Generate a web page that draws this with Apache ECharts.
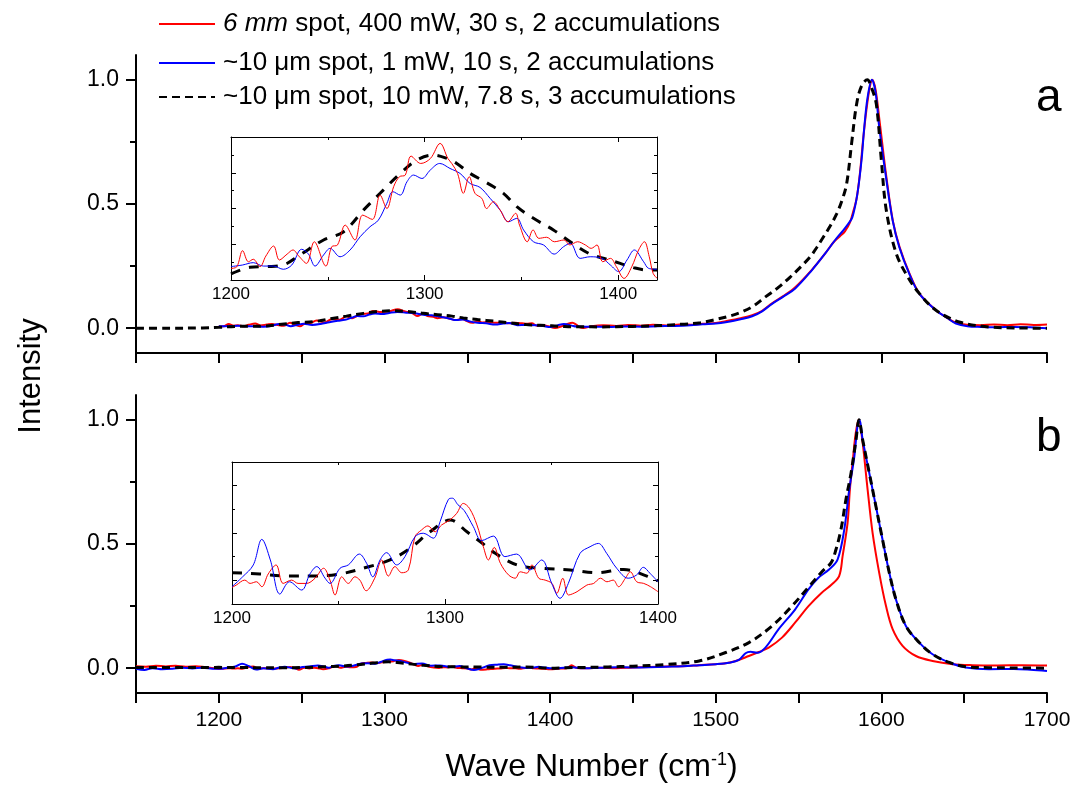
<!DOCTYPE html>
<html><head><meta charset="utf-8">
<script src="https://cdn.jsdelivr.net/npm/echarts@6/dist/echarts.min.js"></script>
<style>html,body{margin:0;padding:0;background:#fff}#c{width:1078px;height:789px}</style>
</head><body><div id="c"></div>
<script>
const NAME_RED = '6 mm spot, 400 mW, 30 s, 2 accumulations';
const NAME_BLUE = '~10 μm spot, 1 mW, 10 s, 2 accumulations';
const NAME_DASH = '~10 μm spot, 10 mW, 7.8 s, 3 accumulations';
const PANEL_LABELS = ['a', 'b'];
const MAIN_Y_LABELS = [0, 0.5, 1.0];
const MAIN_Y_TICKS_MINOR = [0.25, 0.75];

// ---- panel a, inset region (1200-1420) ----
const insetA_red = [[1200,0.0065],[1203,0.0074],[1206,0.0164],[1209,0.0102],[1211.5,0.0116],[1215,0.0075],[1218,0.0134],[1222,0.019],[1225,0.0112],[1229,0.0145],[1232,0.0168],[1235,0.0134],[1239,0.0093],[1243,0.0214],[1249,0.0078],[1252,0.0186],[1255,0.0196],[1259,0.0307],[1264,0.0224],[1268,0.0363],[1273,0.0339],[1277,0.0475],[1280.5,0.04],[1284,0.0522],[1287,0.0578],[1290,0.0587],[1293,0.0693],[1298,0.0652],[1303,0.068],[1308,0.0764],[1312,0.068],[1314,0.0652],[1317,0.0596],[1320,0.0485],[1323,0.0578],[1326,0.0485],[1329.5,0.0457],[1332,0.04],[1335.5,0.0438],[1339,0.0391],[1343,0.0326],[1347,0.0373],[1349,0.0307],[1353,0.0214],[1356,0.028],[1359,0.0233],[1363,0.0239],[1367,0.0214],[1372,0.0224],[1375,0.0196],[1379,0.0214],[1383,0.0196],[1386,0.0177],[1389,0.0196],[1392,0.0102],[1396,0.0121],[1399,0.0075],[1403,0.0009],[1407,0.0075],[1410.5,0.0168],[1413.5,0.0214],[1416,0.013],[1418,0.0037],[1420,0.001]];
const insetA_blue = [[1200,0.0075],[1206,0.0084],[1211.5,0.0097],[1216.7,0.0078],[1222,0.0078],[1227,0.006],[1231.4,0.0084],[1236.5,0.0172],[1240,0.0145],[1243.4,0.0078],[1247.8,0.014],[1251.2,0.0177],[1256.3,0.013],[1261.5,0.0168],[1266.7,0.0242],[1271.8,0.0298],[1276.1,0.0335],[1280.5,0.0429],[1283.6,0.0494],[1287.4,0.0475],[1290.9,0.055],[1294.3,0.0587],[1298.6,0.0568],[1302.9,0.0615],[1307.8,0.0652],[1313.1,0.0624],[1318.3,0.0596],[1323.5,0.054],[1328.6,0.0518],[1333.8,0.0457],[1339,0.0391],[1343.3,0.0326],[1347.6,0.0345],[1351.1,0.028],[1356.2,0.0214],[1361.4,0.0196],[1366.9,0.0145],[1371.7,0.0186],[1375.2,0.0205],[1380.3,0.0121],[1385.5,0.013],[1391.6,0.0121],[1395.9,0.0084],[1400.2,0.0047],[1404.5,0.0112],[1408.3,0.0168],[1413.1,0.0102],[1415.7,0.0065],[1420,0.006]];
const insetA_dash = [[1200,0.0034],[1209.8,0.0071],[1218.4,0.0075],[1227,0.0084],[1235.6,0.014],[1247.8,0.0224],[1258.2,0.027],[1268.4,0.0391],[1277,0.0485],[1287.4,0.0596],[1296,0.0671],[1304.6,0.0699],[1311.5,0.068],[1316.6,0.0652],[1323.5,0.0596],[1332.1,0.0544],[1340.7,0.0485],[1347.6,0.041],[1356.2,0.0345],[1366.5,0.028],[1375.2,0.0214],[1385.5,0.0145],[1394.1,0.0116],[1401,0.0093],[1407.9,0.0069],[1414.8,0.0056],[1420,0.0056]];

// ---- panel a, remaining main trace ----
const mainA_dashHead = [[1150,0.0],[1170,0.0],[1190,0.001]];
const mainA_redTail = [[1425,0.008],[1432,0.012],[1440,0.009],[1447,0.013],[1455,0.010],[1462,0.014],[1470,0.011],[1478,0.015],[1485,0.014],[1492,0.018],[1500,0.021],[1506,0.028],[1515,0.04],[1522,0.052],[1528,0.07],[1534,0.1],[1541,0.13],[1548,0.165],[1558,0.235],[1566,0.3],[1571,0.345],[1575,0.37],[1578,0.39],[1581,0.425],[1583,0.47],[1585,0.52],[1587,0.62],[1589,0.76],[1591,0.88],[1593,0.97],[1594.5,1.0],[1596.5,0.96],[1599,0.83],[1603,0.61],[1607,0.43],[1611,0.327],[1617,0.22],[1623,0.139],[1633,0.072],[1640,0.04],[1645,0.022],[1652,0.014],[1660,0.012],[1668,0.015],[1676,0.012],[1684,0.016],[1692,0.013],[1700,0.015]];
const mainA_blueTail = [[1425,0.006],[1435,0.005],[1445,0.007],[1455,0.006],[1465,0.008],[1475,0.009],[1485,0.012],[1492,0.016],[1500,0.019],[1506,0.024],[1515,0.036],[1522,0.048],[1528,0.068],[1534,0.098],[1541,0.128],[1548,0.16],[1558,0.233],[1566,0.3],[1572,0.354],[1577,0.394],[1580,0.42],[1582.5,0.447],[1585.5,0.54],[1588,0.675],[1589.7,0.81],[1591.7,0.93],[1594.3,1.0],[1596.5,0.95],[1598.7,0.81],[1602.8,0.608],[1606.8,0.434],[1610.8,0.327],[1616.8,0.22],[1622.9,0.139],[1632.9,0.072],[1640,0.04],[1645,0.019],[1652,0.008],[1660,0.005],[1670,0.004],[1680,0.005],[1690,0.004],[1700,0.0]];
const mainA_dashTail = [[1430,0.005],[1440,0.006],[1450,0.007],[1460,0.009],[1470,0.012],[1480,0.016],[1490,0.021],[1500,0.035],[1508,0.048],[1516,0.066],[1523,0.09],[1530,0.126],[1538,0.165],[1545,0.206],[1551,0.245],[1557,0.287],[1561,0.325],[1565,0.367],[1569,0.41],[1573,0.46],[1576,0.51],[1579,0.58],[1582,0.742],[1585,0.9],[1588,0.975],[1591.5,1.0],[1594,0.97],[1597,0.9],[1600,0.675],[1603,0.474],[1609,0.3],[1616,0.206],[1623,0.139],[1633,0.072],[1647,0.025],[1665,0.005],[1680,0.001],[1700,0.0]];

// ---- panel b, inset region (1200-1400) ----
const insetB_red = [[1200,-0.003],[1202,-0.002],[1206,0.0001],[1208.5,-0.0013],[1211.5,-0.0006],[1214,-0.0027],[1217,0.0027],[1220.7,0.0065],[1224,-0.0013],[1228,0.0001],[1231,-0.0013],[1235,-0.0013],[1239,0.0009],[1243,0.0051],[1246,0.0001],[1248.4,-0.0062],[1251.5,0.0015],[1254.6,-0.0013],[1257.7,0.0015],[1260,0.0001],[1263,-0.0044],[1267,0.0009],[1270.3,0.0086],[1273.4,0.0018],[1276.5,0.0058],[1279.7,0.0032],[1282.8,0.0044],[1285.9,0.0184],[1289,0.0213],[1292,0.023],[1295.3,0.0205],[1298.4,0.0234],[1302.3,0.0255],[1305.5,0.0283],[1308.6,0.0325],[1311.5,0.0304],[1315,0.0234],[1318,0.0142],[1320.4,0.0086],[1323.1,0.0139],[1326,0.0072],[1329.8,0.0023],[1333,0.0009],[1335.3,0.0036],[1338.4,0.003],[1340.8,0.0065],[1344,0.0009],[1347,0.0001],[1350.2,-0.0013],[1352.5,-0.0055],[1355.3,0.0009],[1358,-0.0062],[1362,-0.0048],[1366.6,-0.002],[1369.8,-0.0013],[1373,0.0009],[1376,-0.0006],[1379,0.0001],[1381.5,-0.0027],[1384.7,0.0009],[1387,0.0036],[1390,-0.0006],[1393.3,-0.0013],[1396.5,-0.0027],[1400,-0.0048]];
const insetB_blue = [[1200,-0.0027],[1205,0.0015],[1210,0.0065],[1214,0.0173],[1218,0.0086],[1222.5,-0.0058],[1227,-0.0006],[1232.7,-0.0041],[1236.6,0.0027],[1239.8,0.0058],[1243.7,0.0009],[1246,-0.0013],[1250.7,0.0051],[1254.6,0.0065],[1259.8,0.0111],[1263.2,0.0072],[1266.1,0.0015],[1269.5,0.0086],[1272.6,0.0117],[1277.3,0.0065],[1281.2,0.01],[1285.9,0.0184],[1289.8,0.0199],[1294.5,0.0178],[1297.7,0.0248],[1301.6,0.0342],[1303.5,0.0347],[1306,0.032],[1309,0.0295],[1313.3,0.0227],[1317.2,0.0168],[1322.7,0.0187],[1328.1,0.01],[1333.6,0.0111],[1339.9,0.0044],[1345.4,0.0086],[1350.1,-0.0013],[1354,-0.0076],[1357.9,-0.0013],[1363.4,0.0114],[1368.1,0.0142],[1372,0.0156],[1375.9,0.0114],[1380.6,0.0051],[1386,0.0009],[1390,0.0023],[1393.1,0.0055],[1396.2,0.003],[1400,-0.0006]];
const insetB_dash = [[1200,0.0032],[1213,0.0027],[1225.6,0.0018],[1238,0.0018],[1250.7,0.0027],[1263.2,0.0055],[1274.2,0.0086],[1283.6,0.0135],[1293,0.0205],[1302.5,0.0255],[1310.3,0.0205],[1316.6,0.0163],[1323.6,0.0114],[1333.8,0.0065],[1344.8,0.0051],[1358.8,0.0044],[1371.4,0.0032],[1383.9,0.0046],[1394.8,0.0018],[1400,-0.0002]];

// ---- panel b, remaining main trace ----
const mainB_redHead = [[1150,0.008],[1156,0.006],[1162,0.01],[1168,0.007],[1174,0.01],[1180,0.006],[1186,0.008],[1192,0.004],[1197,0.0]];
const mainB_blueHead = [[1150,-0.002],[1155,-0.007],[1160,0.0],[1166,-0.004],[1172,-0.002],[1178,0.002],[1184,-0.001],[1190,0.002],[1196,-0.002]];
const mainB_dashHead = [[1150,0.003],[1175,0.003],[1195,0.003]];
const mainB_redTail = [[1405,-0.002],[1410,0.0],[1413,0.012],[1416,0.001],[1422,0.0],[1430,0.002],[1440,0.0],[1450,0.003],[1460,0.005],[1470,0.007],[1480,0.008],[1490,0.012],[1500,0.016],[1506,0.02],[1512,0.029],[1520,0.049],[1526,0.065],[1532,0.083],[1540,0.123],[1548,0.184],[1556,0.25],[1564,0.304],[1570,0.337],[1574.5,0.371],[1576.6,0.451],[1579.6,0.585],[1581,0.719],[1583,0.853],[1584.6,0.95],[1586.3,1.0],[1588.3,0.93],[1591.7,0.719],[1594.7,0.545],[1598.7,0.384],[1602.8,0.25],[1606.8,0.157],[1612.8,0.09],[1620.9,0.049],[1630.9,0.029],[1643,0.016],[1655,0.012],[1670,0.011],[1685,0.012],[1700,0.011]];
const mainB_blueTail = [[1405,0.0],[1413,0.004],[1420,0.0],[1430,0.002],[1440,0.004],[1450,0.003],[1460,0.004],[1470,0.006],[1480,0.008],[1490,0.012],[1500,0.016],[1508,0.022],[1514,0.033],[1518,0.06],[1521,0.066],[1525,0.062],[1530,0.083],[1538,0.157],[1548,0.237],[1556,0.317],[1562,0.364],[1568.6,0.398],[1573.6,0.438],[1577.6,0.558],[1580.6,0.719],[1583.7,0.853],[1585.5,0.97],[1586.8,1.0],[1588.7,0.92],[1592.7,0.786],[1596.7,0.652],[1600.7,0.518],[1604.8,0.384],[1608.8,0.277],[1614.8,0.17],[1622.9,0.103],[1630.9,0.056],[1641,0.023],[1651,0.003],[1665,-0.004],[1680,-0.003],[1690,-0.006],[1700,-0.011]];
const mainB_dashTail = [[1410,0.002],[1420,0.003],[1435,0.005],[1450,0.008],[1470,0.015],[1490,0.029],[1506,0.063],[1520,0.103],[1534,0.17],[1546,0.25],[1556.5,0.33],[1564.5,0.391],[1569.6,0.424],[1572.6,0.478],[1575.6,0.558],[1578.6,0.679],[1581.7,0.786],[1584.7,0.92],[1586.5,1.0],[1588.7,0.92],[1592.7,0.786],[1596.7,0.652],[1600.7,0.518],[1604.8,0.384],[1608.8,0.277],[1614.8,0.17],[1622.9,0.103],[1630.9,0.056],[1641,0.023],[1651,0.006],[1665,0.002],[1680,0.001],[1700,0.0]];

const FONT = '"Liberation Sans", Arial, sans-serif';
const RED = '#ff0000', BLUE = '#0000ff', BLACK = '#000000';

function mainX(idx, showLabels) {
  return {
    type: 'value', gridIndex: idx, min: 1150, max: 1700, interval: 50, position: 'bottom',
    axisLine: {show: true, onZero: false, lineStyle: {color: BLACK, width: 2}},
    axisTick: {show: true, inside: false, length: 10, lineStyle: {color: BLACK, width: 2}},
    axisLabel: {show: showLabels, margin: 17, color: BLACK, fontSize: 21, fontFamily: FONT,
      formatter: v => (v % 100 === 0 ? String(v) : '')},
    splitLine: {show: false}
  };
}
function mainYMajor(idx) {
  return {
    type: 'value', gridIndex: idx, min: -0.1, max: 1.1, position: 'left',
    axisLine: {show: true, onZero: false, lineStyle: {color: BLACK, width: 2}},
    axisTick: {show: true, inside: false, length: 10, customValues: MAIN_Y_LABELS, lineStyle: {color: BLACK, width: 2}},
    axisLabel: {show: true, margin: 17, color: BLACK, fontSize: 23, fontFamily: FONT,
      customValues: MAIN_Y_LABELS, formatter: v => v.toFixed(1)},
    splitLine: {show: false}
  };
}
function mainYMinor(idx) {
  return {
    type: 'value', gridIndex: idx, min: -0.1, max: 1.1, position: 'left',
    axisLine: {show: false},
    axisTick: {show: true, inside: false, length: 6, customValues: MAIN_Y_TICKS_MINOR, lineStyle: {color: BLACK, width: 2}},
    axisLabel: {show: false},
    splitLine: {show: false}
  };
}
function insetX(idx, pos, max) {
  return {
    type: 'value', gridIndex: idx, min: 1200, max: max, interval: 100, position: pos,
    axisLine: {show: true, onZero: false, lineStyle: {color: BLACK, width: 1}},
    axisTick: {show: true, inside: true, length: 5, lineStyle: {color: BLACK, width: 1}},
    minorTick: {show: true, splitNumber: 2, length: 3, lineStyle: {color: BLACK, width: 1}},
    axisLabel: {show: pos === 'bottom', margin: 6, color: BLACK, fontSize: 17, fontFamily: FONT,
      showMaxLabel: max % 100 === 0, formatter: v => (v % 100 === 0 ? String(v) : '')},
    splitLine: {show: false}
  };
}
function insetY(idx, pos, min, max, majors, minors) {
  return [{
    type: 'value', gridIndex: idx, min: min, max: max, position: pos,
    axisLine: {show: true, onZero: false, lineStyle: {color: BLACK, width: 1}},
    axisTick: {show: true, inside: true, length: 5, customValues: majors, lineStyle: {color: BLACK, width: 1}},
    axisLabel: {show: false}, splitLine: {show: false}
  }, {
    type: 'value', gridIndex: idx, min: min, max: max, position: pos,
    axisLine: {show: false},
    axisTick: {show: true, inside: true, length: 3, customValues: minors, lineStyle: {color: BLACK, width: 1}},
    axisLabel: {show: false}, splitLine: {show: false}
  }];
}

function line(name, data, xi, yi, color, width, dash) {
  return {
    name: name, type: 'line', xAxisIndex: xi, yAxisIndex: yi, data: data,
    symbol: 'none', smooth: 0.35, clip: true, silent: true,
    lineStyle: {color: color, width: width, type: dash || 'solid'},
    itemStyle: {color: color}
  };
}

const dashMain = [8, 5];
const dashInset = [10, 9];

const option = {
  animation: false,
  backgroundColor: '#fff',
  textStyle: {fontFamily: FONT},
  title: [
    {text: PANEL_LABELS[0], left: 1031, top: 70, textStyle: {fontSize: 46, fontWeight: 'normal', color: BLACK, fontFamily: FONT}},
    {text: PANEL_LABELS[1], left: 1031, top: 410, textStyle: {fontSize: 46, fontWeight: 'normal', color: BLACK, fontFamily: FONT}}
  ],
  legend: [NAME_RED, NAME_BLUE, NAME_DASH].map((n, i) => ({
    data: [n], orient: 'vertical', left: 153, top: [6, 45, 79][i],
    itemWidth: 56, itemHeight: 14, itemGap: 0, selectedMode: false,
    itemStyle: {opacity: 0, borderWidth: 0},
    textStyle: {fontSize: 26, color: BLACK, fontFamily: FONT, padding: [0, 0, 0, 3],
      rich: {it: {fontStyle: 'italic', fontSize: 26, fontFamily: FONT, color: BLACK}}},
    formatter: name => (name.indexOf('6 mm') === 0 ? '{it|6 mm}' + name.slice(4) : name)
  })),
  grid: [
    {left: 136, top: 55, width: 911, height: 298},
    {left: 136, top: 395, width: 911, height: 298},
    {left: 231, top: 137, width: 426, height: 143},
    {left: 232, top: 462, width: 426, height: 142}
  ],
  xAxis: [
    mainX(0, false),
    Object.assign(mainX(1, true), {
      name: 'Wave Number (cm{sup|-1})', nameLocation: 'middle', nameGap: 58,
      nameTextStyle: {fontSize: 32, color: BLACK, fontFamily: FONT,
        rich: {sup: {fontSize: 18, verticalAlign: 'top', color: BLACK, fontFamily: FONT, padding: [0, 0, 13, 0]}}}
    }),
    insetX(2, 'bottom', 1420), insetX(2, 'top', 1420),
    insetX(3, 'bottom', 1400), insetX(3, 'top', 1400)
  ],
  yAxis: [
    mainYMajor(0), mainYMinor(0),
    mainYMajor(1), mainYMinor(1),
    ...insetY(2, 'left', 0, 0.08, [0.02, 0.04, 0.06], [0.01, 0.03, 0.05, 0.07]),
    ...insetY(2, 'right', 0, 0.08, [0.02, 0.04, 0.06], [0.01, 0.03, 0.05, 0.07]),
    ...insetY(3, 'left', -0.01, 0.05, [0, 0.02, 0.04], [0.01, 0.03]),
    ...insetY(3, 'right', -0.01, 0.05, [0, 0.02, 0.04], [0.01, 0.03])
  ],
  series: [
    line(NAME_RED, insetA_red.concat(mainA_redTail), 0, 0, RED, 2),
    line(NAME_BLUE, insetA_blue.concat(mainA_blueTail), 0, 0, BLUE, 2),
    line(NAME_DASH, mainA_dashHead.concat(insetA_dash, mainA_dashTail), 0, 0, BLACK, 3, dashMain),
    line(NAME_RED, mainB_redHead.concat(insetB_red, mainB_redTail), 1, 2, RED, 2),
    line(NAME_BLUE, mainB_blueHead.concat(insetB_blue, mainB_blueTail), 1, 2, BLUE, 2),
    line(NAME_DASH, mainB_dashHead.concat(insetB_dash, mainB_dashTail), 1, 2, BLACK, 3, dashMain),
    line(NAME_DASH, insetA_dash, 2, 4, BLACK, 3, dashInset),
    line(NAME_BLUE, insetA_blue, 2, 4, BLUE, 1),
    line(NAME_RED, insetA_red, 2, 4, RED, 1),
    line(NAME_DASH, insetB_dash, 4, 8, BLACK, 3, dashInset),
    line(NAME_RED, insetB_red, 4, 8, RED, 1),
    line(NAME_BLUE, insetB_blue, 4, 8, BLUE, 1)
  ],
  graphic: [{
    type: 'text', x: 31, y: 376, rotation: Math.PI / 2,
    style: {text: 'Intensity', fontSize: 31, fontFamily: FONT, fill: BLACK, align: 'center', verticalAlign: 'middle'}
  }]
};

const chart = echarts.init(document.getElementById('c'), null, {renderer: 'canvas'});
chart.setOption(option);
</script>
</body></html>
